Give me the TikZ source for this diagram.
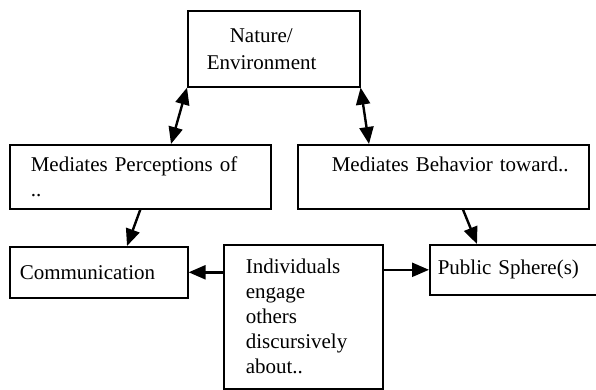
\documentclass[tikz,border=0pt]{standalone}
\usepackage{fontspec}
\setmainfont{Liberation Serif}
\usetikzlibrary{arrows.meta}

\begin{document}
\begin{tikzpicture}
	[x=1pt,y=1pt,
	box/.style={draw, line width=1.6pt, anchor=north west, align=left, inner ysep=0pt, font=\fontsize{21pt}{25pt}\selectfont},
	arr/.style={line width=2.4pt, -{Triangle[length=17pt,width=14pt]}},
	both/.style={line width=2.4pt, {Triangle[length=17pt,width=14pt]}-{Triangle[length=17pt,width=14pt]}}]
	\useasboundingbox (0,0) rectangle (596,-390);
	\node[box, inner xsep=19pt, text width=134pt, minimum height=76pt] (nat) at (187,-10) {\hspace*{23pt}Nature/\\[2pt]Environment};
	\node[box, inner xsep=21pt, text width=219pt, minimum height=64pt] (perc) at (9,-144) {Mediates Perceptions of\\..};
	\node[box, inner xsep=34pt, text width=223pt, minimum height=64pt] (behav) at (297,-144) {\mbox{Mediates Behavior toward..}\\\mbox{}};
	\node[box, inner xsep=10pt, text width=158pt, minimum height=51pt] (comm) at (9,-246) {Communication};
	\node[box, inner xsep=22pt, text width=115pt, minimum height=144pt] (indiv) at (223,-244) {Individuals\\engage\\others\\discursively\\about..};
	\node[box, inner xsep=8pt, text width=151pt, minimum height=50pt] (pub) at (429,-244) {Public Sphere(s)};
	
	\coordinate (p1) at ([xshift=162pt]perc.north west);
	\coordinate (b1) at ([xshift=72pt]behav.north west);
	\coordinate (c1) at ([xshift=118pt]comm.north west);
	\coordinate (b2) at ([xshift=166pt]behav.south west);
	\coordinate (s1) at ([xshift=48pt]pub.north west);
	
	\draw[both] (nat.south west) -- (p1);
	\draw[both] (nat.south east) -- (b1);
	\foreach \from/\to in {perc.south/c1,b2/s1}
		\draw[arr] (\from) -- (\to);
	\draw[arr] (indiv.west |- comm.east) -- (comm.east);
	\draw[arr] (indiv.east |- pub.west) -- (pub.west);
\end{tikzpicture}
\end{document}
